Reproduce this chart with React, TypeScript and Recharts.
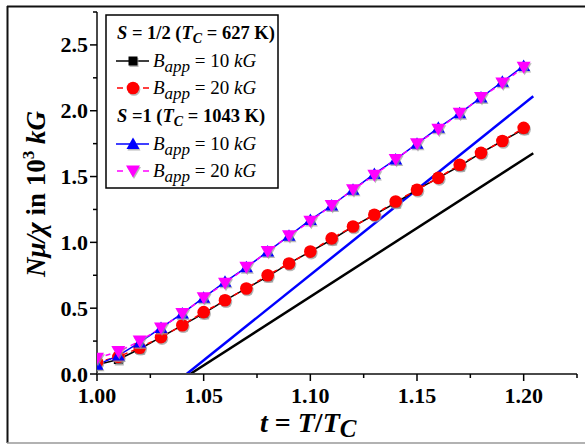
import React from "react";
import { ComposedChart, Line, XAxis, YAxis } from "recharts";

document.body.style.margin = "0";

const T_VALUES = [
  1.0, 1.01, 1.02, 1.03, 1.04, 1.05, 1.06, 1.07, 1.08, 1.09, 1.1, 1.11, 1.12, 1.13,
  1.14, 1.15, 1.16, 1.17, 1.18, 1.19, 1.2,
];
const HALF_10 = [
  0.07, 0.11, 0.19, 0.28, 0.37, 0.46, 0.56, 0.65, 0.74, 0.84, 0.93, 1.02, 1.12, 1.21,
  1.3, 1.4, 1.49, 1.58, 1.68, 1.77, 1.86,
];
const HALF_20 = [
  0.09, 0.13, 0.2, 0.28, 0.37, 0.47, 0.56, 0.65, 0.75, 0.84, 0.93, 1.03, 1.12, 1.21,
  1.31, 1.4, 1.49, 1.59, 1.68, 1.77, 1.87,
];
const ONE_10 = [
  0.07, 0.14, 0.24, 0.35, 0.46, 0.58, 0.7, 0.81, 0.93, 1.05, 1.17, 1.28, 1.4, 1.52,
  1.63, 1.75, 1.87, 1.98, 2.1, 2.22, 2.34,
];
const ONE_20 = [
  0.12, 0.17, 0.25, 0.35, 0.46, 0.58, 0.69, 0.81, 0.93, 1.05, 1.16, 1.28, 1.4, 1.51,
  1.63, 1.75, 1.86, 1.98, 2.1, 2.21, 2.33,
];
// Curie-Weiss asymptotes (end points)
const HALF_FIT = [
  { t: 1.0437, v: 0 },
  { t: 1.2045, v: 1.677 },
];
const ONE_FIT = [
  { t: 1.042, v: 0 },
  { t: 1.2045, v: 2.11 },
];

const X_TICKS = [1.0, 1.025, 1.05, 1.075, 1.1, 1.125, 1.15, 1.175, 1.2, 1.225];
const Y_TICKS = [0, 0.25, 0.5, 0.75, 1.0, 1.25, 1.5, 1.75, 2.0, 2.25, 2.5, 2.75];

const toRows = (vals: number[]) => T_VALUES.map((t, i) => ({ t, v: vals[i] }));

const FONT = "'Liberation Serif', 'DejaVu Serif', serif";
const AXIS = "#4a4a4a";
const SHADOW = "#9a9a9a";

type Kind = "square" | "circle" | "up" | "down";

function Marker({ kind, cx, cy, color }: { kind: Kind; cx: number; cy: number; color: string }) {
  const shape = (x: number, y: number, fill: string) => {
    if (kind === "square") return <rect x={x - 4.5} y={y - 4.5} width={9} height={9} fill={fill} />;
    if (kind === "circle") return <circle cx={x} cy={y} r={6.3} fill={fill} />;
    if (kind === "up")
      return <polygon points={`${x},${y - 6.5} ${x + 6.5},${y + 5} ${x - 6.5},${y + 5}`} fill={fill} />;
    return <polygon points={`${x},${y + 6.5} ${x + 7},${y - 5.5} ${x - 7},${y - 5.5}`} fill={fill} />;
  };
  return (
    <g>
      <g opacity={0.7}>{shape(cx + 1, cy + 1.5, SHADOW)}</g>
      {shape(cx, cy, color)}
    </g>
  );
}

const makeDot = (kind: Kind, color: string) => (props: any) => {
  const { cx, cy, index } = props;
  if (cx == null || cy == null) return <g key={`${kind}-${index}`} />;
  return (
    <g key={`${kind}-${index}`}>
      <Marker kind={kind} cx={cx} cy={cy} color={color} />
    </g>
  );
};

const XTick = (props: any) => {
  const { x, y, payload } = props;
  const v = payload.value as number;
  const major = Math.abs(v * 20 - Math.round(v * 20)) < 1e-6;
  return (
    <g>
      <line x1={x} x2={x} y1={y} y2={y + (major ? 7 : 4)} stroke="#000" strokeWidth={1.5} />
      {major && (
        <text x={x} y={y + 29} textAnchor="middle" fontFamily={FONT} fontWeight="bold" fontSize={22} fill="#000">
          {v.toFixed(2)}
        </text>
      )}
    </g>
  );
};

const YTick = (props: any) => {
  const { x, y, payload } = props;
  const v = payload.value as number;
  const major = Math.abs(v * 2 - Math.round(v * 2)) < 1e-6;
  return (
    <g>
      <line x1={x} x2={x - (major ? 7 : 4)} y1={y} y2={y} stroke="#000" strokeWidth={1.5} />
      {major && (
        <text x={x - 9} y={y + 7.5} textAnchor="end" fontFamily={FONT} fontWeight="bold" fontSize={22} fill="#000">
          {v.toFixed(1)}
        </text>
      )}
    </g>
  );
};

function LegendSymbol({ y, kind, color, dashed }: { y: number; kind: Kind; color: string; dashed?: boolean }) {
  return (
    <g>
      {dashed ? (
        <>
          <line x1={117} x2={123} y1={y} y2={y} stroke={color} strokeWidth={1.5} />
          <line x1={143} x2={149} y1={y} y2={y} stroke={color} strokeWidth={1.5} />
        </>
      ) : (
        <line x1={116} x2={149} y1={y} y2={y} stroke={color} strokeWidth={1.5} />
      )}
      <Marker kind={kind} cx={133} cy={y} color={color} />
    </g>
  );
}

function BappText({ y, value }: { y: number; value: string }) {
  return (
    <text x={153} y={y} fontFamily={FONT} fontSize={19} fill="#000">
      <tspan fontStyle="italic">B</tspan>
      <tspan fontStyle="italic" fontSize={17} dy={5}>
        app
      </tspan>
      <tspan dy={-5}>{` = ${value} `}</tspan>
      <tspan fontStyle="italic">kG</tspan>
    </text>
  );
}

function Overlay() {
  return (
    <svg width={585} height={444} style={{ position: "absolute", left: 0, top: 0, pointerEvents: "none" }}>
      {/* frame */}
      <line x1={7} x2={585} y1={6.5} y2={6.5} stroke="#111" strokeWidth={2} />
      <line x1={7.5} x2={7.5} y1={6} y2={443} stroke="#111" strokeWidth={2} />
      <line x1={7} x2={585} y1={443} y2={443} stroke="#999" strokeWidth={1.5} />

      {/* y title */}
      <text
        transform="translate(45,194) rotate(-90)"
        textAnchor="middle"
        fontFamily={FONT}
        fontWeight="bold"
        fontSize={27}
        fill="#000"
      >
        <tspan fontStyle="italic">Nμ/χ</tspan>
        <tspan> in 10</tspan>
        <tspan fontSize={17} dy={-11}>
          3
        </tspan>
        <tspan dy={11} fontStyle="italic">
          {" "}
          kG
        </tspan>
      </text>

      {/* x title */}
      <text x={260} y={432} fontFamily={FONT} fontWeight="bold" fontStyle="italic" fontSize={28} fill="#000">
        <tspan>t</tspan>
        <tspan fontStyle="normal"> = </tspan>
        <tspan>T</tspan>
        <tspan fontStyle="normal">/</tspan>
        <tspan>T</tspan>
        <tspan dy={5} fontSize={25}>
          C
        </tspan>
      </text>

      {/* legend */}
      <rect x={106} y={15} width={172} height={173} fill="#fff" stroke="#000" strokeWidth={1.5} />
      <text x={117} y={39} fontFamily={FONT} fontWeight="bold" fontSize={18.5} fill="#000">
        <tspan fontStyle="italic">S</tspan>
        <tspan>{" = 1/2 ("}</tspan>
        <tspan fontStyle="italic">T</tspan>
        <tspan fontStyle="italic" fontSize={14} dy={4}>
          C
        </tspan>
        <tspan dy={-4}>{" = 627 K)"}</tspan>
      </text>
      <LegendSymbol y={61} kind="square" color="#000" />
      <BappText y={67} value="10" />
      <LegendSymbol y={88} kind="circle" color="#ff0000" dashed />
      <BappText y={94} value="20" />
      <text x={117} y={122} fontFamily={FONT} fontWeight="bold" fontSize={18.5} fill="#000">
        <tspan fontStyle="italic">S</tspan>
        <tspan>{" =1 ("}</tspan>
        <tspan fontStyle="italic">T</tspan>
        <tspan fontStyle="italic" fontSize={14} dy={4}>
          C
        </tspan>
        <tspan dy={-4}>{" = 1043 K)"}</tspan>
      </text>
      <LegendSymbol y={144} kind="up" color="#0000ff" />
      <BappText y={150} value="10" />
      <LegendSymbol y={171} kind="down" color="#ff00ff" dashed />
      <BappText y={177} value="20" />
    </svg>
  );
}

export default function App() {
  return (
    <div style={{ position: "relative", width: 585, height: 444, background: "#fff", overflow: "hidden" }}>
      <ComposedChart width={585} height={444} margin={{ top: 12, right: 8, bottom: 0, left: 0 }}>
        <XAxis
          dataKey="t"
          type="number"
          domain={[1, 1.225]}
          ticks={X_TICKS}
          allowDataOverflow
          height={70}
          tickSize={0}
          tickMargin={0}
          tickLine={false}
          axisLine={{ stroke: AXIS, strokeWidth: 2 }}
          tick={<XTick />}
          interval={0}
        />
        <YAxis
          dataKey="v"
          type="number"
          domain={[0, 2.75]}
          ticks={Y_TICKS}
          allowDataOverflow
          width={97}
          tickSize={0}
          tickMargin={0}
          tickLine={false}
          axisLine={{ stroke: AXIS, strokeWidth: 2 }}
          tick={<YTick />}
          interval={0}
        />
        <Line data={HALF_FIT} dataKey="v" stroke="#000" strokeWidth={2.5} dot={false} isAnimationActive={false} />
        <Line data={ONE_FIT} dataKey="v" stroke="#0000ff" strokeWidth={2.5} dot={false} isAnimationActive={false} />
        <Line
          data={toRows(HALF_10)}
          dataKey="v"
          stroke="#000"
          strokeWidth={1.5}
          dot={makeDot("square", "#000")}
          isAnimationActive={false}
        />
        <Line
          data={toRows(HALF_20)}
          dataKey="v"
          stroke="#ff0000"
          strokeWidth={1.5}
          strokeDasharray="5 4"
          dot={makeDot("circle", "#ff0000")}
          isAnimationActive={false}
        />
        <Line
          data={toRows(ONE_10)}
          dataKey="v"
          stroke="#0000ff"
          strokeWidth={1.5}
          dot={makeDot("up", "#0000ff")}
          isAnimationActive={false}
        />
        <Line
          data={toRows(ONE_20)}
          dataKey="v"
          stroke="#ff00ff"
          strokeWidth={1.5}
          strokeDasharray="5 4"
          dot={makeDot("down", "#ff00ff")}
          isAnimationActive={false}
        />
      </ComposedChart>
      <Overlay />
    </div>
  );
}
